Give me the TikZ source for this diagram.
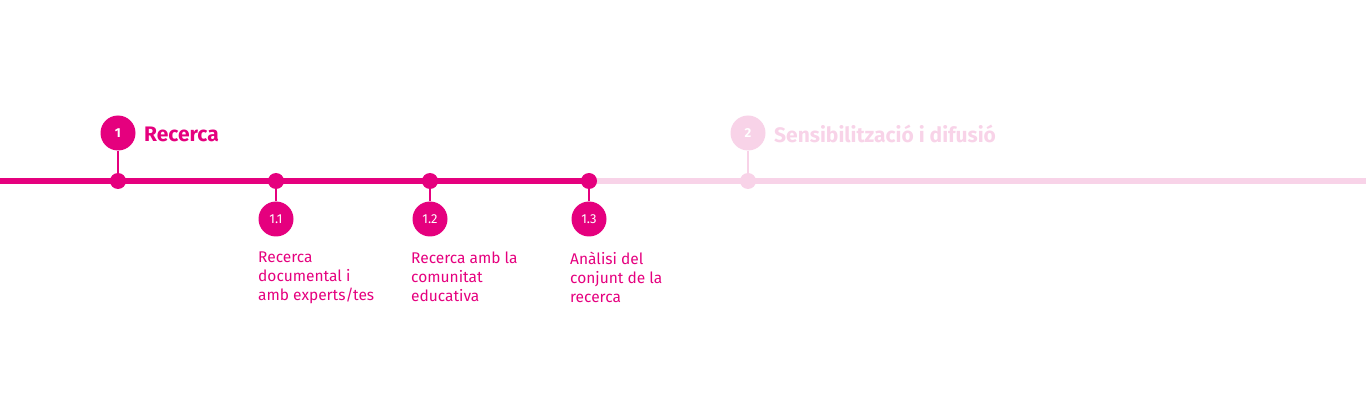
\documentclass[tikz,border=0pt]{standalone}
\usepackage{fontspec}
\setmainfont{Fira Sans}
\definecolor{pk}{HTML}{E5007E}
\definecolor{lp}{HTML}{F8D3E8}
\begin{document}
\begin{tikzpicture}[x=1pt,y=-1pt,
 dot/.style={circle,fill=#1,minimum size=16pt,inner sep=0pt},
 big/.style={circle,fill=#1,minimum size=35pt,inner sep=0pt,text=white,font=\fontsize{13}{13}\selectfont},
 ttl/.style={anchor=west,text=#1,font=\bfseries\fontsize{21}{21}\selectfont,inner sep=0pt},
 desc/.style={anchor=north west,align=left,text=pk,font=\fontsize{15.5}{19}\selectfont,inner sep=0pt}]
\useasboundingbox (0,0) rectangle (1366,414);
\coordinate (L) at (0,181); \coordinate (M) at (590,181); \coordinate (R) at (1366,181);
\draw[lp,line width=6pt] (M) -- (R);
\draw[pk,line width=6pt] (L) -- (M);
\node[dot=pk] (d1) at (118,181) {};
\node[big=pk,font=\bfseries\fontsize{13}{13}\selectfont] (c1) at (118,133) {1};
\draw[pk,line width=2.5pt] (c1) -- (d1);
\node[ttl=pk] (t1) at (144,134) {Recerca};
\node[dot=lp] (d2) at (748,181) {};
\node[big=lp,font=\bfseries\fontsize{13}{13}\selectfont] (c2) at (748,133) {2};
\draw[lp,line width=2.5pt] (c2) -- (d2);
\node[ttl=lp] (t2) at (774,134) {Sensibilització i difusió};
\foreach \n/\x/\t in {a/276/1.1, b/430/1.2, c/589/1.3}{
  \node[dot=pk] (d\n) at (\x,181) {};
  \node[big=pk] (c\n) at (\x,219) {\t};
  \draw[pk,line width=2.5pt] (d\n) -- (c\n);
}
\node[desc] (ta) at (258,252) {Recerca\\documental i\\amb experts/tes};
\node[desc] (tb) at (411,252) {Recerca amb la\\comunitat\\educativa};
\node[desc] (tc) at (570,252) {Anàlisi del\\conjunt de la\\recerca};
\end{tikzpicture}
\end{document}
